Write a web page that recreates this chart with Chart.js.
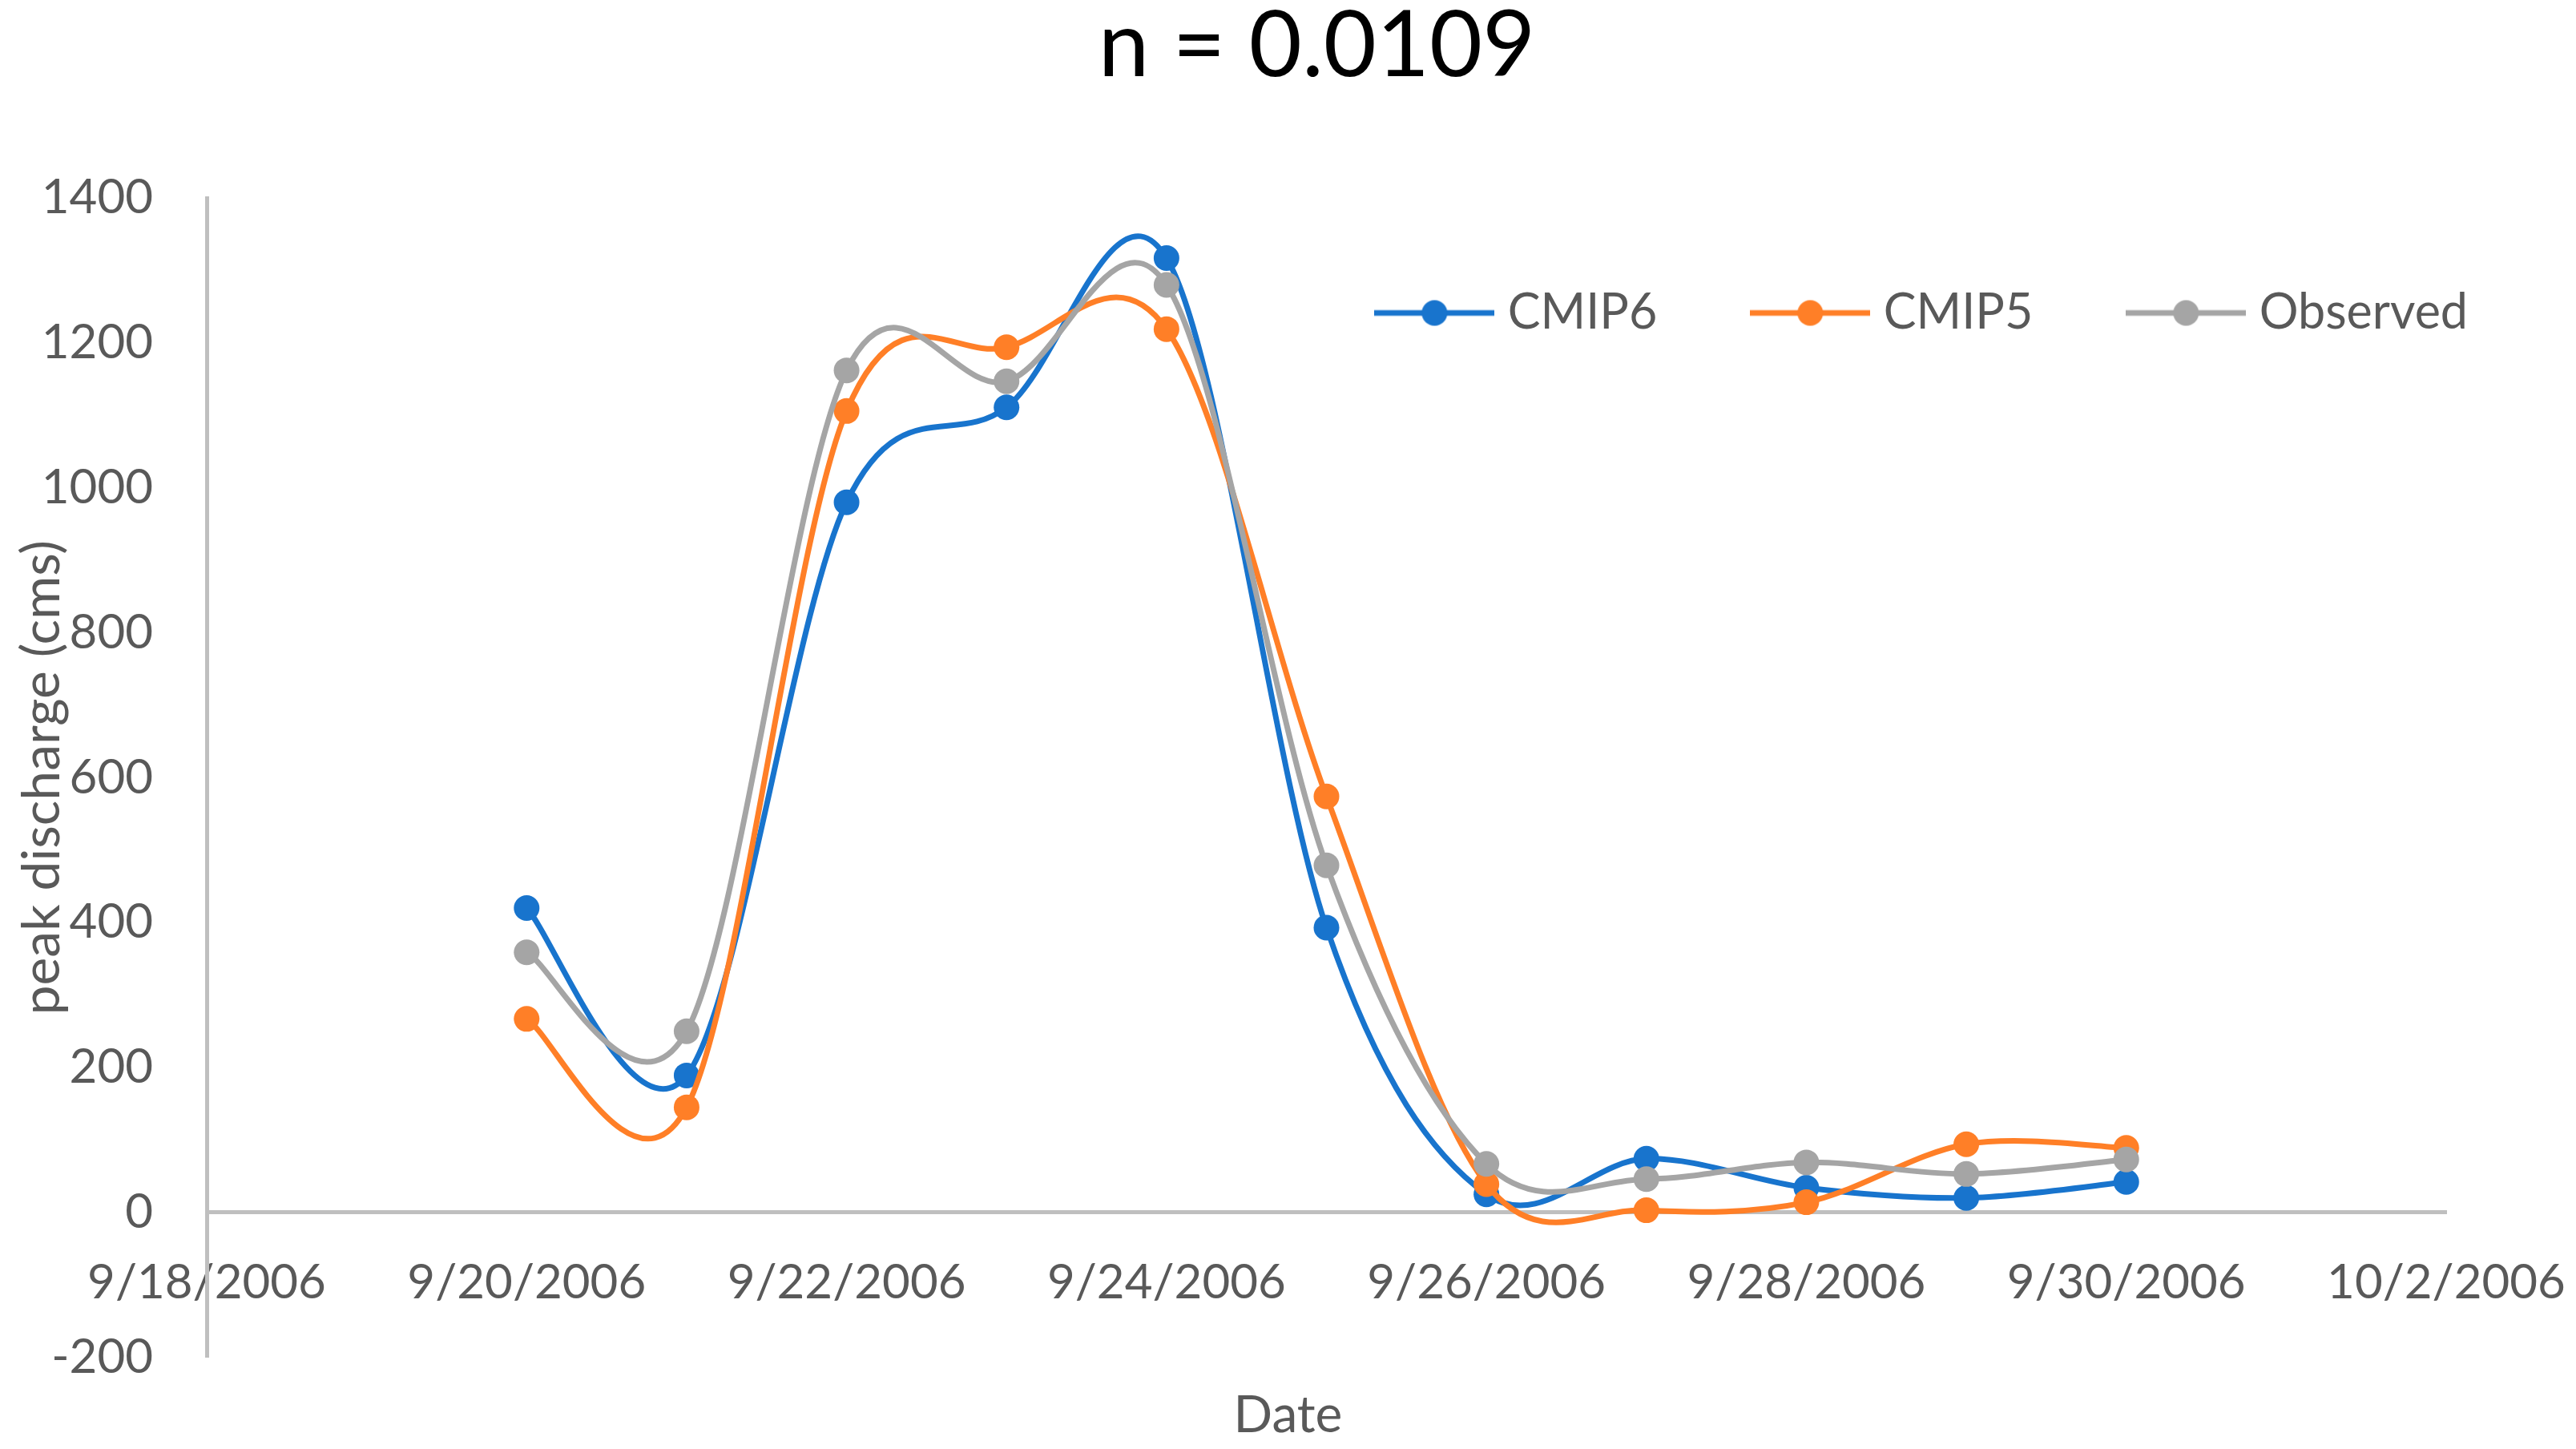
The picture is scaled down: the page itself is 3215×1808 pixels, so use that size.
<!DOCTYPE html>
<html>
<head>
<meta charset="utf-8">
<script src="https://cdn.jsdelivr.net/npm/chart.js@4.4.1/dist/chart.umd.min.js"></script>
<style>
  html, body { margin: 0; padding: 0; background: #fff; }
  #wrap { width: 3215px; height: 1808px; }
</style>
</head>
<body>
<div id="wrap"><canvas id="chart"></canvas></div>
<script>
// values
const dates = ['9/20/2006', '9/21/2006', '9/22/2006', '9/23/2006', '9/24/2006', '9/25/2006',
               '9/26/2006', '9/27/2006', '9/28/2006', '9/29/2006', '9/30/2006'];
const cmip6 = [420, 189, 980, 1111, 1317, 393, 25, 74, 34, 20, 42];
const cmip5 = [267, 145, 1106, 1194, 1219, 574, 39, 3, 14, 94, 89];
const observed = [359, 250, 1162, 1147, 1280, 479, 67, 46, 69, 53, 73];

const xTickLabels = ['9/18/2006', '9/20/2006', '9/22/2006', '9/24/2006', '9/26/2006',
                     '9/28/2006', '9/30/2006', '10/2/2006'];
const yTicks = [-200, 0, 200, 400, 600, 800, 1000, 1200, 1400];

const seriesNames = ['CMIP6', 'CMIP5', 'Observed'];
const seriesColors = ['#1874CD', '#FF7F27', '#A5A5A5'];

const FONT = 'Lato, "Open Sans", sans-serif';
const TXT = '#595959';

function dayNum(s) {
  const [m, d, y] = s.split('/').map(Number);
  return Date.UTC(y, m - 1, d) / 86400000;
}
const day0 = dayNum(xTickLabels[0]);
const toPoints = vals => vals.map((v, i) => ({ x: dayNum(dates[i]) - day0, y: v }));

// little line + marker picture for the legend
function legendIcon(color) {
  const c = document.createElement('canvas');
  c.width = 150; c.height = 36;
  const g = c.getContext('2d');
  g.strokeStyle = color; g.lineWidth = 7;
  g.beginPath(); g.moveTo(0, 18); g.lineTo(150, 18); g.stroke();
  g.fillStyle = color;
  g.beginPath(); g.arc(75, 18, 16, 0, Math.PI * 2); g.fill();
  return c;
}
const icons = seriesColors.map(legendIcon);

// move the legend down into the plot area and nudge the title, like the excel one
const excelPlacement = {
  id: 'excelPlacement',
  afterLayout(chart) {
    const lg = chart.legend;
    const pad = lg.options.labels.padding;
    const h = lg.bottom - lg.top, w = lg.right - lg.left;
    lg.top = 390 - pad - 30;
    lg.bottom = lg.top + h;
    lg.right = 3080 + pad;
    lg.left = lg.right - w;

    const tb = chart.titleBlock;
    tb.left += 36;
    tb.right += 36;
  }
};

// excel style smoothing: control points at p +- (next - prev) / 6
const excelSmooth = {
  id: 'excelSmooth',
  beforeDatasetsDraw(chart) {
    chart.getSortedVisibleDatasetMetas().forEach(meta => {
      const pts = meta.data;
      const n = pts.length;
      for (let i = 0; i < n; i++) {
        const p = pts[i];
        const prev = pts[Math.max(i - 1, 0)];
        const next = pts[Math.min(i + 1, n - 1)];
        const dx = (next.x - prev.x) / 6, dy = (next.y - prev.y) / 6;
        p.cp1x = p.x - dx; p.cp1y = p.y - dy;
        p.cp2x = p.x + dx; p.cp2y = p.y + dy;
      }
      meta.dataset._pointsUpdated = true;
      meta.dataset._path = undefined;
    });
  }
};

const allSeries = [cmip6, cmip5, observed];

new Chart(document.getElementById('chart'), {
  type: 'line',
  data: {
    datasets: allSeries.map((vals, i) => ({
      label: seriesNames[i],
      data: toPoints(vals),
      borderColor: seriesColors[i],
      backgroundColor: seriesColors[i],
      borderWidth: 7,
      pointRadius: 16,
      pointHoverRadius: 16,
      pointBorderWidth: 0,
      tension: 0.35,
      fill: false,
      order: allSeries.length - 1 - i
    }))
  },
  options: {
    responsive: true,
    maintainAspectRatio: false,
    animation: false,
    devicePixelRatio: 1,
    layout: { padding: { left: 20, right: 20, top: 0, bottom: 0 } },
    plugins: {
      title: {
        display: true,
        text: 'n = 0.0109',
        color: '#000',
        font: { family: FONT, size: 114, weight: 'normal', lineHeight: 1 },
        padding: { top: 1, bottom: -69 }
      },
      subtitle: {
        display: true,
        position: 'bottom',
        text: 'Date',
        color: TXT,
        font: { family: FONT, size: 64, weight: 'normal', lineHeight: 1.1 },
        padding: { top: 38, bottom: 6 }
      },
      legend: {
        position: 'top',
        align: 'end',
        labels: {
          usePointStyle: true,
          pointStyleWidth: 122,
          padding: 130,
          color: TXT,
          font: { family: FONT, size: 61 },
          generateLabels: chart => chart.data.datasets.map((ds, i) => ({
            text: ds.label,
            pointStyle: icons[i],
            fillStyle: ds.borderColor,
            strokeStyle: ds.borderColor,
            lineWidth: 0,
            fontColor: TXT,
            hidden: false,
            datasetIndex: i
          }))
        }
      },
      tooltip: { enabled: false }
    },
    scales: {
      x: {
        type: 'linear',
        position: { y: 0 },
        min: 0,
        max: dayNum(xTickLabels[xTickLabels.length - 1]) - day0,
        afterBuildTicks: axis => { axis.ticks = xTickLabels.map(l => ({ value: dayNum(l) - day0 })); },
        afterFit: axis => { axis.paddingRight = 162; axis.paddingLeft = 0; },
        grid: { display: false, drawTicks: false },
        border: { display: true, color: '#BFBFBF', width: 5 },
        ticks: {
          color: TXT,
          font: { family: FONT, size: 60 },
          padding: 52,
          maxRotation: 0,
          autoSkip: false,
          callback: v => {
            const l = xTickLabels.find(t => dayNum(t) - day0 === v);
            return l || '';
          }
        }
      },
      y: {
        min: yTicks[0],
        max: yTicks[yTicks.length - 1],
        afterBuildTicks: axis => { axis.ticks = yTicks.map(v => ({ value: v })); },
        afterFit: axis => { axis.width = 238; },
        grid: { display: false, drawTicks: false },
        border: { display: true, color: '#BFBFBF', width: 5 },
        ticks: {
          color: TXT,
          font: { family: FONT, size: 60 },
          padding: 67,
          callback: v => String(v)
        },
        title: {
          display: true,
          text: 'peak discharge (cms)',
          color: TXT,
          font: { family: FONT, size: 66, lineHeight: 1 },
          padding: { top: 0, bottom: 0 }
        }
      }
    }
  },
  plugins: [excelPlacement, excelSmooth]
});
</script>
</body>
</html>
